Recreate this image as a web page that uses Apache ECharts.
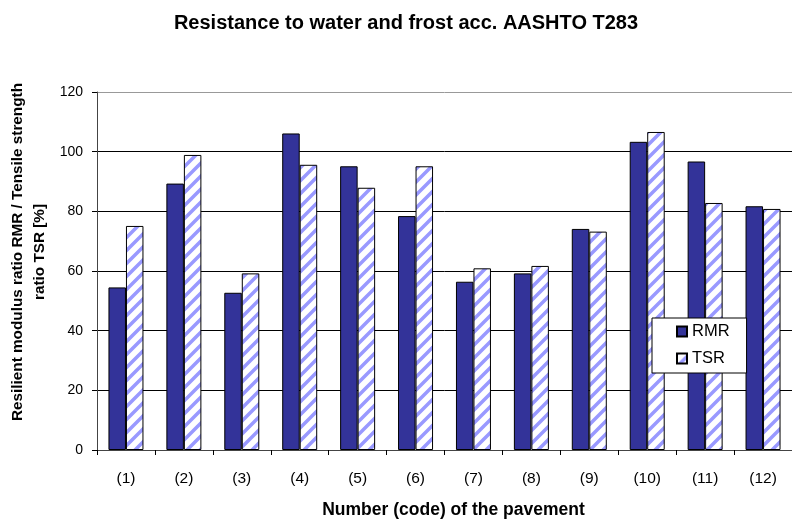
<!DOCTYPE html>
<html>
<head>
<meta charset="utf-8">
<script src="https://cdn.jsdelivr.net/npm/echarts@6/dist/echarts.min.js"></script>
<style>
  html, body { margin: 0; padding: 0; background: #fff; }
  #chart { width: 792px; height: 524px; }
</style>
</head>
<body>
<div id="chart"></div>
<script>
// pavement codes
const categories = ['(1)', '(2)', '(3)', '(4)', '(5)', '(6)', '(7)', '(8)', '(9)', '(10)', '(11)', '(12)'];
// resilient modulus ratio [%]
const rmrValues = [54.5, 89.3, 52.7, 106.1, 95.1, 78.4, 56.4, 59.2, 74.1, 103.3, 96.7, 81.7];
// tensile strength ratio [%]
const tsrValues = [75.1, 98.9, 59.2, 95.6, 87.9, 95.1, 60.9, 61.7, 73.2, 106.6, 82.8, 80.8];

const FONT = '"Liberation Sans", Arial, sans-serif';

// upward diagonal hatch for TSR bars
function makeHatch() {
  const size = 13;
  const c = document.createElement('canvas');
  c.width = size;
  c.height = size;
  const ctx = c.getContext('2d');
  ctx.fillStyle = '#ffffff';
  ctx.fillRect(0, 0, size, size);
  ctx.strokeStyle = '#9999ff';
  ctx.lineWidth = 3.5;
  ctx.beginPath();
  ctx.moveTo(0, size); ctx.lineTo(size, 0);
  ctx.moveTo(-size / 2, size / 2); ctx.lineTo(size / 2, -size / 2);
  ctx.moveTo(size / 2, size * 1.5); ctx.lineTo(size * 1.5, size / 2);
  ctx.stroke();
  return c;
}

const chart = echarts.init(document.getElementById('chart'));

chart.setOption({
  animation: false,
  backgroundColor: '#fff',
  textStyle: { fontFamily: FONT },
  title: {
    text: 'Resistance to water and frost acc. AASHTO T283',
    left: 401,
    top: 8,
    textAlign: 'center',
    textStyle: { fontFamily: FONT, fontSize: 20, fontWeight: 'bold', color: '#000' }
  },
  graphic: [
    {
      type: 'text',
      x: 29,
      y: 252,
      rotation: Math.PI / 2,
      style: {
        text: 'Resilient modulus ratio RMR / Tensile strength\nratio TSR [%]',
        font: 'bold 15.3px ' + FONT,
        fill: '#000',
        textAlign: 'center',
        textVerticalAlign: 'middle',
        lineHeight: 22
      }
    }
  ],
  legend: {
    orient: 'vertical',
    left: 652,
    top: 318,
    width: 95,
    padding: [5, 17, 6, 24],
    itemWidth: 10,
    itemHeight: 10,
    itemGap: 10,
    icon: 'rect',
    backgroundColor: '#fff',
    borderColor: '#000',
    borderWidth: 1,
    borderRadius: 0,
    textStyle: { fontFamily: FONT, fontSize: 16.5, color: '#000' },
    data: ['RMR', 'TSR']
  },
  grid: {
    left: 97,
    top: 92,
    width: 702,
    height: 360
  },
  xAxis: {
    type: 'category',
    data: categories,
    name: 'Number (code) of the pavement',
    nameLocation: 'middle',
    nameGap: 51,
    nameTextStyle: {
      fontFamily: FONT, fontSize: 17.5, fontWeight: 'bold', color: '#000',
      verticalAlign: 'top', padding: [0, 0, 0, 18]
    },
    axisLine: { lineStyle: { color: '#444', width: 1 } },
    axisTick: { show: true, length: 5, lineStyle: { color: '#000' } },
    axisLabel: { fontFamily: FONT, fontSize: 15.5, color: '#000', margin: 21 }
  },
  yAxis: {
    type: 'value',
    min: 0,
    max: 120,
    interval: 20,
    axisLine: { show: true, lineStyle: { color: '#444', width: 1 } },
    axisTick: { show: true, length: 5, lineStyle: { color: '#000' } },
    axisLabel: { fontFamily: FONT, fontSize: 14, color: '#000', margin: 14 },
    splitLine: {
      lineStyle: {
        color: ['#000', '#000', '#000', '#000', '#000', '#000', '#999'],
        width: 1
      }
    }
  },
  series: [
    {
      name: 'RMR',
      type: 'bar',
      data: rmrValues,
      barWidth: 17.5,
      barGap: '0%',
      itemStyle: { color: '#333399', borderColor: '#000', borderWidth: 1 }
    },
    {
      name: 'TSR',
      type: 'bar',
      data: tsrValues,
      barWidth: 17.5,
      itemStyle: {
        color: { image: makeHatch(), repeat: 'repeat' },
        borderColor: '#000',
        borderWidth: 1
      }
    }
  ]
});

window.addEventListener('resize', () => chart.resize());
</script>
</body>
</html>
